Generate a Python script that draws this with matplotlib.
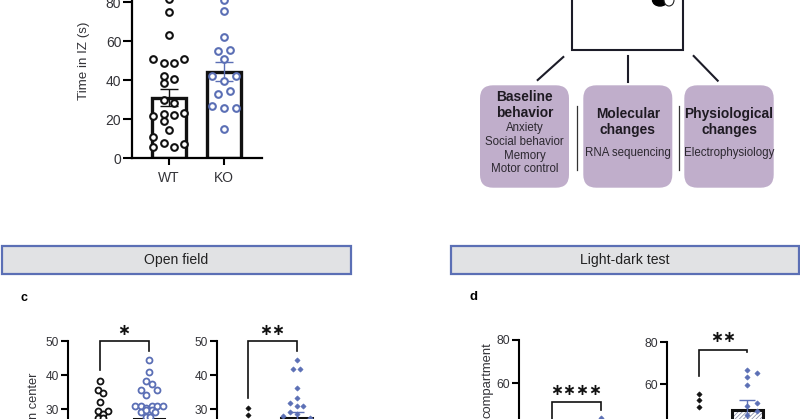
import matplotlib
matplotlib.use("Agg")
import matplotlib.pyplot as plt
from matplotlib.patches import FancyBboxPatch, Rectangle, Ellipse

plt.rcParams['font.family'] = ['Liberation Sans', 'DejaVu Sans']
plt.rcParams['hatch.linewidth'] = 0.6

W, H = 800, 419
BLACK = '#111111'
BLUE = '#5b6fb5'
TXT = '#333338'
PURPLE = '#c0aecb'

groups = ['WT', 'KO']

# panel a (Time in IZ)
a_wt = [81.5, 75, 63, 50.8, 48.7, 48.7, 51, 42, 38.5, 40.5, 30, 28.5, 21.5, 22.5, 19.3, 22, 23, 14.5, 10.8, 5.8, 8, 5.8, 7.3]
a_wt_dx = [0, 0, 0, -.28, -.09, .09, .28, -.09, -.09, .09, -.09, .09, -.28, -.09, -.09, .09, .28, 0, -.28, -.28, -.09, .09, .28]
a_ko = [81, 75.7, 62, 55, 55.7, 51, 42.2, 42.2, 39.5, 32.8, 34.7, 26.7, 25.8, 25.8, 14.9]
a_ko_dx = [0, 0, 0, -.11, .11, 0, -.21, .21, 0, -.11, .11, -.21, 0, .21, 0]
a_mean = [31, 44.5]
a_sem = [4.4, 5]

# panel c, left
c1_wt = [38.1, 35.5, 34.6, 32.2, 29.3, 29.3, 28.4, 27.5, 27.5]
c1_wt_dx = [0, -.05, .06, 0, -.05, .17, .06, -.05, .06]
c1_ko = [44.4, 41, 38.1, 37.5, 35.5, 35.5, 34.1, 31, 30.8, 30.4, 31, 30.8, 31, 29, 29.7, 29.7, 27.7, 27.7, 29]
c1_ko_dx = [0, 0, -.06, .06, -.17, .17, -.06, -.28, -.17, -.06, .06, .17, .28, -.17, -.06, .06, -.06, .03, .12]
c1_mean = [24, 27.2]
c1_sem = [1.5, 1.4]

# panel c, right
c2_wt = [30.2, 28.3]
c2_wt_dx = [0, 0]
c2_ko = [44.4, 41.7, 41.7, 36.1, 33.3, 31.7, 31, 31, 29.2, 28.4, 28, 27.5]
c2_ko_dx = [0, -.07, .07, 0, 0, -.14, 0, .14, -.14, 0, -.27, .27]
c2_mean = [20, 27.4]
c2_sem = [1.5, 1.6]

# panel d, left
d1_wt = [30]
d1_wt_dx = [0]
d1_ko = [43.5]
d1_ko_dx = [0]
d1_mean = [25, 30]
d1_sem = [2, 2]

# panel d, right
d2_wt = [55.4, 52.5, 49]
d2_wt_dx = [0, 0, 0]
d2_ko = [66.7, 65.4, 63.5, 59.8, 51.3, 49.8, 47.3, 45.4]
d2_ko_dx = [0, .21, 0, 0, .21, 0, .21, 0]
d2_mean = [30, 47.8]
d2_sem = [3, 4.6]

flow_titles = ['Baseline\nbehavior', 'Molecular\nchanges', 'Physiological\nchanges']
flow_items = [['Anxiety', 'Social behavior', 'Memory', 'Motor control'], ['RNA sequencing'], ['Electrophysiology']]
sections = ['Open field', 'Light-dark test']

fig = plt.figure(figsize=(W / 100, H / 100), dpi=100, facecolor='white')


def px_axes(left, right, bottom, top, x0, x1, yzero_val, ytop_val):
    """Axes placed by pixel box; x data 0 and 1 sit at pixels x0 and x1."""
    ax = fig.add_axes([left / W, 1 - bottom / H, (right - left) / W, (bottom - top) / H])
    u = x1 - x0
    ax.set_xlim((left - x0) / u, (right - x0) / u)
    ax.set_ylim(yzero_val, ytop_val)
    ax.patch.set_alpha(0)
    for s in ['top', 'right']:
        ax.spines[s].set_visible(False)
    return ax


ov = fig.add_axes([0, 0, 1, 1])
ov.set_xlim(0, W)
ov.set_ylim(H, 0)
ov.axis('off')

# ---- schematic
DK = '#1c1c28'
ov.plot([572, 572, 683, 683], [0, 49.7, 49.7, 0], color=DK, lw=1.5, solid_joinstyle='miter')
ov.add_patch(Ellipse((660, 0), 15, 12, fc='black', ec='black'))
ov.add_patch(Ellipse((669, 0), 10, 12, fc='white', ec='#222222', lw=0.8))
for (xa, ya, xb, yb) in [(563.3, 57, 537.7, 80), (628, 56, 628, 82), (693.7, 56, 717.7, 80.7)]:
    ov.plot([xa, xb], [ya, yb], color=DK, lw=1.5)
for xs in [576.7, 679]:
    ov.plot([xs, xs], [106, 170], color='#333333', lw=0.9)
boxes = [(480, 569), (583.3, 672.3), (684.3, 773.7)]
item_y = [[127.7, 142, 155.7, 169], [152.5], [152.5]]
title_c = [105, 122, 122]
for (l, r), t, items, ys, tc in zip(boxes, flow_titles, flow_items, item_y, title_c):
    ov.add_patch(FancyBboxPatch((l, 85.3), r - l, 102.4, boxstyle='round,pad=0,rounding_size=13',
                                fc=PURPLE, ec='none'))
    cx = (l + r) / 2
    ov.text(cx, tc, t, ha='center', va='center', fontsize=9.9, fontweight='bold', color='#1e1a22', linespacing=1.2)
    for it, y in zip(items, ys):
        ov.text(cx, y, it, ha='center', va='center', fontsize=8.3, color='#2c2830')

# ---- section headers
for (l, r), s in zip([(1.5, 350.5), (450.5, 798.5)], sections):
    ov.add_patch(Rectangle((l, 246), r - l, 28, fc='#e1e2e4', ec=BLUE, lw=1.6))
    ov.text((l + r) / 2, 260, s, ha='center', va='center', fontsize=10.1, color='#222222')
ov.text(24, 298, 'c', ha='center', va='center', fontsize=9, fontweight='bold', color='black')
ov.text(473.5, 297, 'd', ha='center', va='center', fontsize=9.5, fontweight='bold', color='black')


def swarm(ax, wt, wdx, ko, kdx, marker, ms, mew=1.4):
    ax.plot(wdx, wt, ls='none', marker=marker, ms=ms, mfc='white' if marker == 'o' else BLACK,
            mec=BLACK, mew=mew, clip_on=False, zorder=4)
    ax.plot([1 + d for d in kdx], ko, ls='none', marker=marker, ms=ms, mfc='white' if marker == 'o' else BLUE,
            mec=BLUE, mew=mew, clip_on=False, zorder=4)


def bars(ax, mean, sem, width, hatch=None, lw=2.2, cap=5):
    for i, (m, e) in enumerate(zip(mean, sem)):
        if hatch:
            ax.bar(i, m, width=width, fc='white', ec='#8d93ad', lw=0, hatch=hatch, zorder=2)
            ax.bar(i, m, width=width, fc='none', ec=BLACK, lw=lw, zorder=2)
        else:
            ax.bar(i, m, width=width, fc='white', ec=BLACK, lw=lw, zorder=2)
        col = BLACK if i == 0 else BLUE
        ax.errorbar(i, m, yerr=e, color=col, lw=1, capsize=cap, capthick=1, zorder=3)


def style_left(ax, ticks, size, lw=1.5, ticklen=5.3):
    ax.set_yticks(ticks)
    ax.spines['left'].set_linewidth(lw)
    ax.spines['bottom'].set_visible(False)
    ax.set_xticks([])
    ax.tick_params(axis='y', length=ticklen, width=lw, labelsize=size, labelcolor=TXT, pad=1.2)


def bracket(ax, l, r, top, stars, star_x, star_val):
    ax.plot([0, 0, 1, 1], [l, top, top, r], color=BLACK, lw=1.2, clip_on=False, solid_joinstyle='miter', zorder=5)
    ax.text(star_x, star_val, stars, ha='center', va='center', fontsize=11.2, fontweight='bold', color=BLACK,
            family=['DejaVu Sans'], clip_on=False)


# ---- panel a
a = px_axes(132, 262, 158.3, 0, 168.7, 224, 0, 158.3 / 1.95)
bars(a, a_mean, a_sem, 0.62, lw=2.4, cap=6.5)
swarm(a, a_wt, a_wt_dx, a_ko, a_ko_dx, 'o', 4.8, mew=1.5)
a.set_yticks([0, 20, 40, 60, 80])
a.set_xticks([0, 1])
a.set_xticklabels(groups)
a.spines['left'].set_linewidth(1.6)
a.spines['bottom'].set_linewidth(1.6)
a.tick_params(axis='y', length=6.2, width=1.5, labelsize=10, labelcolor=TXT, pad=1.5)
a.tick_params(axis='x', length=5, width=1.5, labelsize=10, labelcolor=TXT, pad=4)
ov.text(84, 61, 'Time in IZ (s)', rotation=90, ha='center', va='center', fontsize=9.6, color=TXT)

# ---- panel c
c1_scale = 3.4
c1 = px_axes(68, 170, 419, 341, 100, 149, 50 - 78 / c1_scale, 50)
bars(c1, c1_mean, c1_sem, 0.62, cap=4.7)
swarm(c1, c1_wt, c1_wt_dx, c1_ko, c1_ko_dx, 'o', 4.3, mew=1.3)
style_left(c1, [30, 40, 50], 8.6)
bracket(c1, 41.5, 47.2, 50, '∗', 0.49, 53.1)
ov.text(34, 372, 'n center', rotation=90, ha='center', va='top', fontsize=9.3, color=TXT)

c2 = px_axes(216.7, 330, 419, 341, 248, 296.5, 50 - 78 / c1_scale, 50)
bars(c2, c2_mean, c2_sem, 0.62, cap=4.7)
swarm(c2, c2_wt, c2_wt_dx, c2_ko, c2_ko_dx, 'D', 2.7, mew=0.4)
style_left(c2, [30, 40, 50], 8.6)
bracket(c2, 33.2, 47.2, 50, '∗∗', 0.5, 53.1)

# ---- panel d
d1_scale = 2.15
d1 = px_axes(519.3, 630, 419, 340, 551.7, 600.7, 80 - 79 / d1_scale, 80)
bars(d1, d1_mean, d1_sem, 0.62, cap=5.5)
swarm(d1, d1_wt, d1_wt_dx, d1_ko, d1_ko_dx, 'D', 2.7, mew=0.4)
style_left(d1, [60, 80], 8.8)
bracket(d1, 43.3, 47.4, 51.2, '∗∗∗∗', 0.5, 56.4)
ov.text(487, 342, 'compartment', rotation=90, ha='center', va='top', fontsize=9.4, color=TXT)

d2_scale = 2.1
d2 = px_axes(666.7, 790, 419, 342.3, 699, 747.3, 80 - 76.7 / d2_scale, 80)
bars(d2, d2_mean, d2_sem, 0.63, hatch='////////', cap=5.5)
swarm(d2, d2_wt, d2_wt_dx, d2_ko, d2_ko_dx, 'D', 2.7, mew=0.4)
style_left(d2, [60, 80], 8.8)
bracket(d2, 64, 75.3, 76.2, '∗∗', 0.5, 82.3)

fig.savefig('out.png', dpi=100)
